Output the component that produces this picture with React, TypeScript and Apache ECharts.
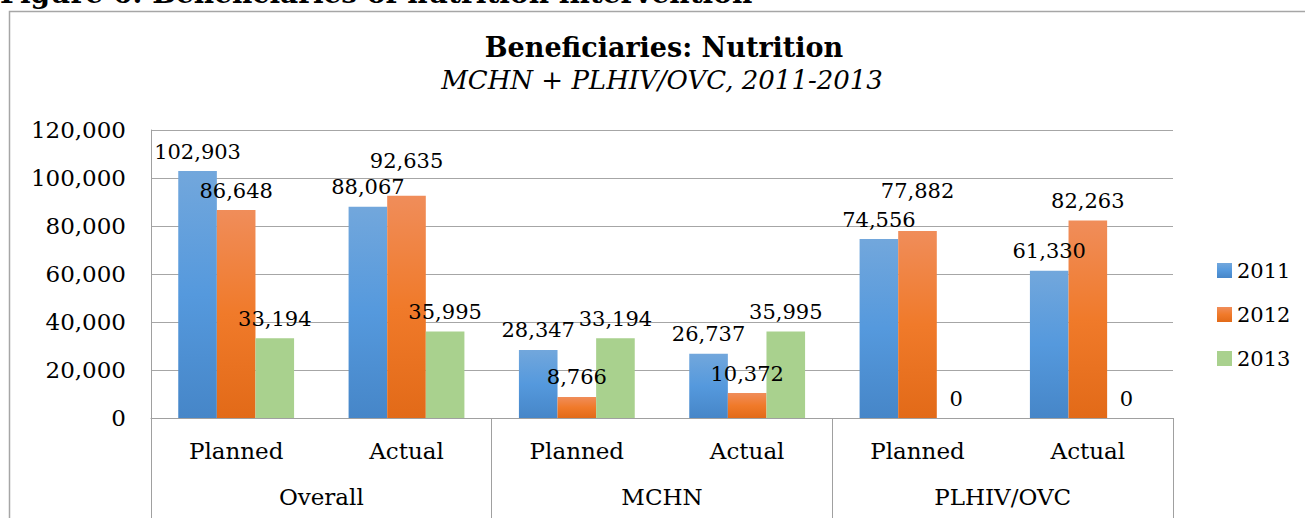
import React, { useEffect, useRef } from "react";
import * as echarts from "echarts";

const subCategories = ["Planned", "Actual", "Planned", "Actual", "Planned", "Actual"];
const groups = ["Overall", "MCHN", "PLHIV/OVC"];
const years = ["2011", "2012", "2013"];
const values2011 = [102903, 88067, 28347, 26737, 74556, 61330];
const values2012 = [86648, 92635, 8766, 10372, 77882, 82263];
const values2013 = [33194, 35995, 33194, 35995, 0, 0];
const yTicks = { min: 0, max: 120000, interval: 20000 };

// label vertical nudges (styling only)
const labelNudge2012 = [0, -15, 0, 0, -21, 0];

const FONT = "DejaVu Serif";

function grad(top: string, mid: string, bottom: string) {
  return new echarts.graphic.LinearGradient(0, 0, 0, 1, [
    { offset: 0, color: top },
    { offset: 0.5, color: mid },
    { offset: 1, color: bottom },
  ]);
}

export default function App() {
  const ref = useRef<HTMLDivElement>(null);
  useEffect(() => {
    if (!ref.current) return;
    const chart = echarts.init(ref.current, null, { renderer: "svg" });
    const labelBase = {
      show: true,
      position: "top" as const,
      distance: 9,
      color: "#000",
      fontFamily: FONT,
      fontSize: 21,
      formatter: (p: any) => Number(p.value).toLocaleString("en-US"),
    };
    const colors = [
      grad("#72a7dc", "#5599dd", "#4686c8"),
      grad("#f08d5a", "#f07a2a", "#e26a18"),
      "#a9d18e",
    ];
    const dataSets = [values2011, values2012, values2013];
    chart.setOption({
      animation: false,
      textStyle: { fontFamily: FONT },
      legend: {
        orient: "vertical",
        left: 1212,
        top: 255,
        itemWidth: 15,
        itemHeight: 15,
        itemGap: 23,
        icon: "rect",
        textStyle: { fontFamily: FONT, fontSize: 21, color: "#000" },
        data: years,
      },
      grid: { left: 151, right: 132, top: 130, bottom: 100 },
      xAxis: [
        {
          type: "category",
          data: subCategories,
          axisLine: { show: true, lineStyle: { color: "#a0a0a0", width: 1 } },
          axisTick: { show: false },
          axisLabel: { color: "#000", fontFamily: FONT, fontSize: 23, margin: 21 },
        },
        {
          type: "category",
          data: groups,
          position: "bottom",
          axisLine: { show: false },
          axisTick: { show: true, length: 100, lineStyle: { color: "#a0a0a0", width: 1 } },
          axisLabel: { color: "#000", fontFamily: FONT, fontSize: 23, margin: 67 },
        },
      ],
      yAxis: {
        type: "value",
        min: yTicks.min,
        max: yTicks.max,
        interval: yTicks.interval,
        axisLine: { show: true, lineStyle: { color: "#a0a0a0" } },
        axisTick: { show: false },
        splitLine: { lineStyle: { color: "#a6a6a6", width: 1 } },
        axisLabel: {
          color: "#000",
          fontFamily: FONT,
          fontSize: 23,
          margin: 25,
          formatter: (v: number) => v.toLocaleString("en-US"),
        },
      },
      series: years.map((y, i) => ({
        name: y,
        type: "bar",
        xAxisIndex: 0,
        barGap: "0%",
        barCategoryGap: "32%",
        itemStyle: { color: colors[i] },
        label: labelBase,
        data: dataSets[i].map((v, j) =>
          i === 1 && labelNudge2012[j] !== 0
            ? { value: v, label: { offset: [0, labelNudge2012[j]] } }
            : v
        ),
      })),
      graphic: [
        {
          type: "rect",
          shape: { x: 9.5, y: 11.5, width: 1400, height: 600 },
          style: { fill: "none", stroke: "#a6a6a6", lineWidth: 1.5 },
        },
        {
          type: "text",
          left: 0,
          top: -21,
          style: {
            text: "Figure 6: Beneficiaries of nutrition intervention",
            fontFamily: FONT,
            fontWeight: "bold",
            fontSize: 28,
            fill: "#000",
          },
        },
        {
          type: "text",
          x: 664,
          y: 47,
          style: {
            text: "Beneficiaries: Nutrition",
            fontFamily: FONT,
            fontWeight: "bold",
            fontSize: 27,
            fill: "#000",
            align: "center",
            verticalAlign: "middle",
          },
        },
        {
          type: "text",
          x: 662,
          y: 80,
          style: {
            text: "MCHN + PLHIV/OVC, 2011-2013",
            fontFamily: FONT,
            fontStyle: "italic",
            fontSize: 26,
            fill: "#000",
            align: "center",
            verticalAlign: "middle",
          },
        },
      ],
    });
    return () => chart.dispose();
  }, []);
  return (
    <div
      ref={ref}
      style={{ position: "absolute", left: 0, top: 0, width: 1305, height: 518, background: "#fff" }}
    />
  );
}
